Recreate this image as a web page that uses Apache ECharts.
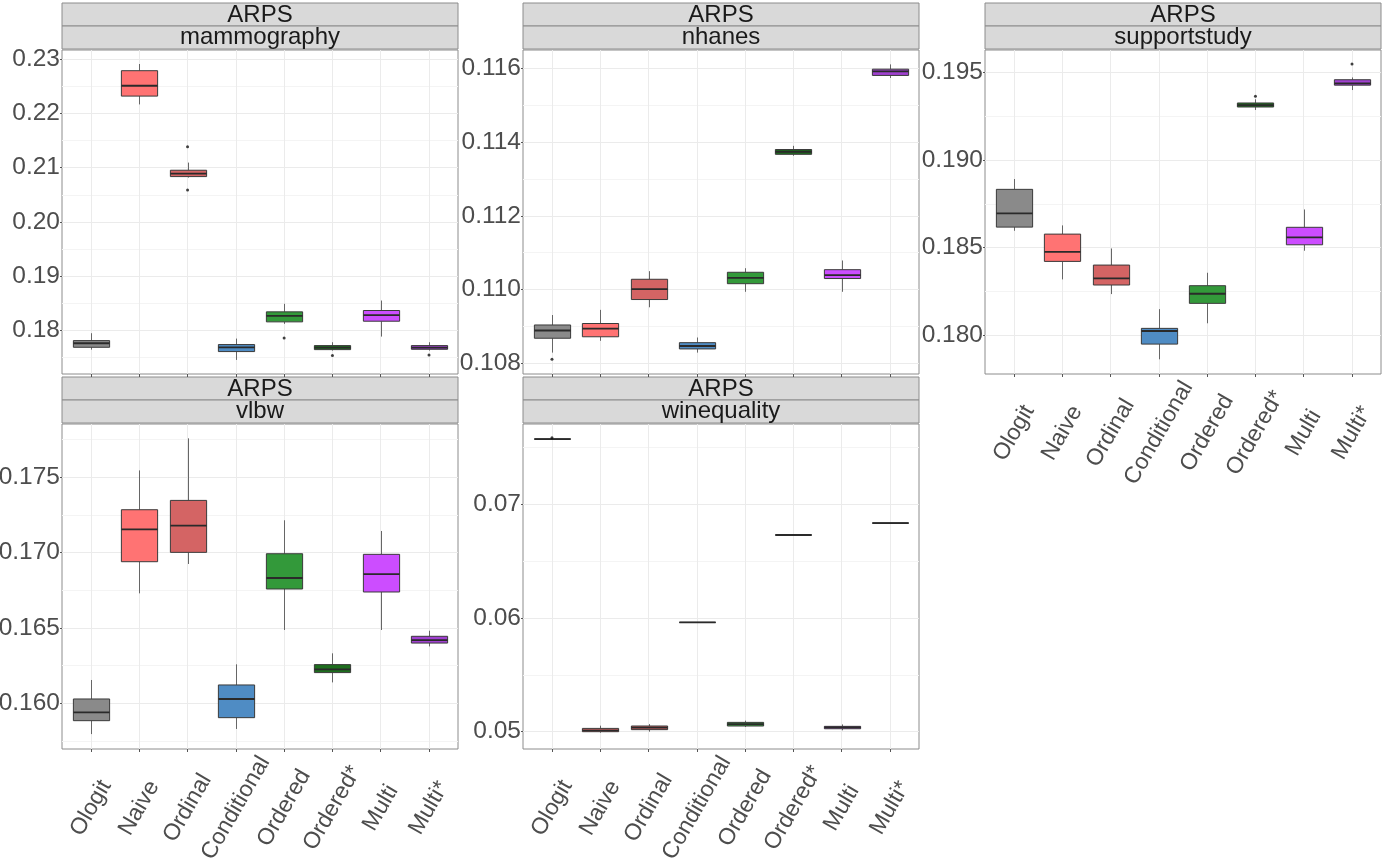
<!DOCTYPE html>
<html><head><meta charset="utf-8">
<script src="https://cdn.jsdelivr.net/npm/echarts@6/dist/echarts.min.js"></script>
<style>html,body{margin:0;padding:0;background:#fff}#c{width:1382px;height:863px}</style>
</head><body><div id="c"></div><script>
const metric = 'ARPS';
const methods = ['Ologit','Naive','Ordinal','Conditional','Ordered','Ordered*','Multi','Multi*'];
const datasets = ['mammography','nhanes','supportstudy','vlbw','winequality'];
const palette = ['#8a8a8a','#ff7373','#d46464','#4f8cc4','#33993a','#1e6e1e','#cc4dff','#a040d0'];

// each box: [lower whisker, Q1, median, Q3, upper whisker]
const mammographyBoxes = [
  [0.17649,0.17692,0.17766,0.17815,0.17951],
  [0.22164,0.22317,0.22508,0.22785,0.22908],
  [0.20817,0.20835,0.20891,0.20952,0.21093],
  [0.17459,0.17613,0.17692,0.17742,0.17852],
  [0.18123,0.18160,0.18271,0.18344,0.18492],
  [0.17631,0.17649,0.17686,0.17723,0.17785],
  [0.17889,0.18172,0.18283,0.18369,0.18553],
  [0.17631,0.17655,0.17686,0.17723,0.17785]
];
const mammographyOutliers = [[2,0.21383],[2,0.20589],[4,0.17865],[5,0.17539],[7,0.17551]];
const mammographyTicks = [0.18,0.19,0.20,0.21,0.22,0.23];
const mammographyMinor = [0.175,0.185,0.195,0.205,0.215,0.225];
const mammographyRange = [0.17200,0.23166];

const nhanesBoxes = [
  [0.10829,0.10868,0.10889,0.10904,0.10931],
  [0.10861,0.10872,0.10894,0.10908,0.10945],
  [0.10952,0.10973,0.11001,0.11028,0.11050],
  [0.10829,0.10839,0.10847,0.10856,0.10870],
  [0.10994,0.11016,0.11032,0.11047,0.11058],
  [0.11363,0.11367,0.11374,0.11380,0.11390],
  [0.10994,0.11030,0.11039,0.11054,0.11079],
  [0.11574,0.11581,0.11592,0.11598,0.11611]
];
const nhanesOutliers = [[0,0.10811]];
const nhanesTicks = [0.108,0.110,0.112,0.114,0.116];
const nhanesMinor = [0.109,0.111,0.113,0.115];
const nhanesRange = [0.10771,0.11650];

const supportstudyBoxes = [
  [0.18596,0.18617,0.18696,0.18833,0.18892],
  [0.18318,0.18421,0.18476,0.18577,0.18627],
  [0.18234,0.18286,0.18324,0.18400,0.18495],
  [0.17861,0.17948,0.18023,0.18038,0.18148],
  [0.18067,0.18181,0.18236,0.18282,0.18356],
  [0.19287,0.19304,0.19315,0.19327,0.19348],
  [0.18482,0.18516,0.18558,0.18616,0.18718],
  [0.19401,0.19429,0.19439,0.19460,0.19473]
];
const supportstudyOutliers = [[5,0.19365],[7,0.19550]];
const supportstudyTicks = [0.180,0.185,0.190,0.195];
const supportstudyMinor = [0.1825,0.1875,0.1925];
const supportstudyRange = [0.17777,0.19630];

const vlbwBoxes = [
  [0.15796,0.15885,0.15940,0.16029,0.16155],
  [0.16730,0.16940,0.17155,0.17285,0.17546],
  [0.16925,0.17002,0.17179,0.17347,0.17759],
  [0.15830,0.15905,0.16029,0.16122,0.16259],
  [0.16487,0.16759,0.16832,0.16993,0.17215],
  [0.16139,0.16204,0.16226,0.16257,0.16332],
  [0.16487,0.16739,0.16858,0.16989,0.17144],
  [0.16378,0.16400,0.16420,0.16445,0.16482]
];
const vlbwOutliers = [];
const vlbwTicks = [0.160,0.165,0.170,0.175];
const vlbwMinor = [0.1575,0.1625,0.1675,0.1725,0.1775];
const vlbwRange = [0.15697,0.17854];

const winequalityBoxes = [
  [0.07571,0.07571,0.07571,0.07571,0.07571],
  [0.04991,0.05000,0.05012,0.05029,0.05053],
  [0.05000,0.05018,0.05035,0.05050,0.05067],
  [0.05960,0.05960,0.05960,0.05960,0.05960],
  [0.05041,0.05050,0.05067,0.05082,0.05097],
  [0.06728,0.06728,0.06728,0.06728,0.06728],
  [0.05012,0.05026,0.05038,0.05047,0.05064],
  [0.06833,0.06833,0.06833,0.06833,0.06833]
];
const winequalityOutliers = [[0,0.07582]];
const winequalityTicks = [0.05,0.06,0.07];
const winequalityMinor = [0.055,0.065,0.075];
const winequalityRange = [0.04848,0.07703];

const FONT = 'Liberation Sans, Arial, Helvetica, sans-serif';
const W = 396;
const positions = methods.map((m, k) => k + 1);

const panels = [
  {name: datasets[0], boxes: mammographyBoxes, outliers: mammographyOutliers, ticks: mammographyTicks, minor: mammographyMinor, range: mammographyRange, dec: 2, left: 62, top: 50, h: 324, xLabels: false},
  {name: datasets[1], boxes: nhanesBoxes, outliers: nhanesOutliers, ticks: nhanesTicks, minor: nhanesMinor, range: nhanesRange, dec: 3, left: 523, top: 50, h: 324, xLabels: false},
  {name: datasets[2], boxes: supportstudyBoxes, outliers: supportstudyOutliers, ticks: supportstudyTicks, minor: supportstudyMinor, range: supportstudyRange, dec: 3, left: 985, top: 50, h: 324, xLabels: true},
  {name: datasets[3], boxes: vlbwBoxes, outliers: vlbwOutliers, ticks: vlbwTicks, minor: vlbwMinor, range: vlbwRange, dec: 3, left: 62, top: 424, h: 325, xLabels: true},
  {name: datasets[4], boxes: winequalityBoxes, outliers: winequalityOutliers, ticks: winequalityTicks, minor: winequalityMinor, range: winequalityRange, dec: 2, left: 523, top: 424, h: 325, xLabels: true}
];

const grid = [], xAxis = [], yAxis = [], series = [], graphic = [];

function renderBox(params, api) {
  const x = api.value(0);
  const lo = api.coord([x, api.value(1)]);
  const q1 = api.coord([x, api.value(2)]);
  const med = api.coord([x, api.value(3)]);
  const q3 = api.coord([x, api.value(4)]);
  const hi = api.coord([x, api.value(5)]);
  const hw = api.size([0.75, 0])[0] / 2;
  const color = palette[api.value(6)];
  const cx = Math.round(med[0]) + 0.5;
  return {
    type: 'group',
    children: [
      {type: 'line', shape: {x1: cx, y1: q1[1], x2: cx, y2: lo[1]}, style: {stroke: '#666', lineWidth: 1}},
      {type: 'line', shape: {x1: cx, y1: q3[1], x2: cx, y2: hi[1]}, style: {stroke: '#666', lineWidth: 1}},
      {type: 'rect', shape: {x: cx - hw, y: q3[1], width: 2 * hw, height: q1[1] - q3[1]}, style: {fill: color, stroke: '#3a3a3a', lineWidth: 1}},
      {type: 'line', shape: {x1: cx - hw, y1: med[1], x2: cx + hw, y2: med[1]}, style: {stroke: '#2a2a2a', lineWidth: 1.8}}
    ]
  };
}

panels.forEach((p, i) => {
  grid.push({left: p.left, top: p.top, width: W, height: p.h, show: true, borderColor: '#8c8c8c', borderWidth: 1, backgroundColor: '#fff', containLabel: false, outerBoundsMode: 'none'});
  xAxis.push({
    type: 'value', gridIndex: i, min: 0.4, max: 8.6,
    axisLine: {show: false},
    axisTick: {show: true, length: 3, lineStyle: {color: '#555'}, customValues: positions},
    axisLabel: {show: p.xLabels, customValues: positions, formatter: v => methods[Math.round(v) - 1],
      rotate: 60, align: 'center', verticalAlign: 'middle', margin: 59, fontSize: 23, color: '#4d4d4d', fontFamily: FONT},
    splitLine: {show: true, lineStyle: {color: '#ebebeb', width: 1}}
  });
  yAxis.push({
    type: 'value', gridIndex: i, min: p.range[0], max: p.range[1],
    axisLine: {show: false},
    axisTick: {show: true, length: 2, lineStyle: {color: '#555'}, customValues: p.ticks},
    axisLabel: {customValues: p.ticks, formatter: v => v.toFixed(p.dec), fontSize: 24.5, color: '#4d4d4d', margin: 2, fontFamily: FONT},
    splitLine: {show: true, lineStyle: {color: '#ebebeb', width: 1}}
  });
  yAxis.push({
    type: 'value', gridIndex: i, min: p.range[0], max: p.range[1],
    axisLine: {show: false},
    axisTick: {show: false, customValues: p.minor},
    axisLabel: {show: false},
    splitLine: {show: true, lineStyle: {color: '#f4f4f4', width: 1}}
  });
  series.push({
    type: 'custom', xAxisIndex: i, yAxisIndex: 2 * i, z: 3,
    data: p.boxes.map((b, k) => [k + 1, b[0], b[1], b[2], b[3], b[4], k]),
    encode: {x: 0, y: [1, 2, 3, 4, 5]},
    renderItem: renderBox, silent: true
  });
  series.push({
    type: 'scatter', xAxisIndex: i, yAxisIndex: 2 * i, z: 4, silent: true,
    data: p.outliers.map(o => [o[0] + 1, o[1]]),
    symbolSize: 3, itemStyle: {color: '#111'}
  });
  const sTop = p.top - 47;
  graphic.push({type: 'rect', shape: {x: p.left, y: sTop, width: W, height: 23}, style: {fill: '#d9d9d9', stroke: '#8c8c8c', lineWidth: 1}});
  graphic.push({type: 'rect', shape: {x: p.left, y: sTop + 23, width: W, height: 23}, style: {fill: '#d9d9d9', stroke: '#8c8c8c', lineWidth: 1}});
  graphic.push({type: 'text', x: p.left + W / 2, y: sTop + 12, style: {text: metric, fontSize: 24, fontFamily: FONT, fill: '#1a1a1a', align: 'center', verticalAlign: 'middle'}});
  graphic.push({type: 'text', x: p.left + W / 2, y: sTop + 34, style: {text: p.name, fontSize: 24, fontFamily: FONT, fill: '#1a1a1a', align: 'center', verticalAlign: 'middle'}});
});

const chart = echarts.init(document.getElementById('c'), null, {renderer: 'canvas'});
chart.setOption({animation: false, backgroundColor: '#fff', grid, xAxis, yAxis, series, graphic});
</script></body></html>
